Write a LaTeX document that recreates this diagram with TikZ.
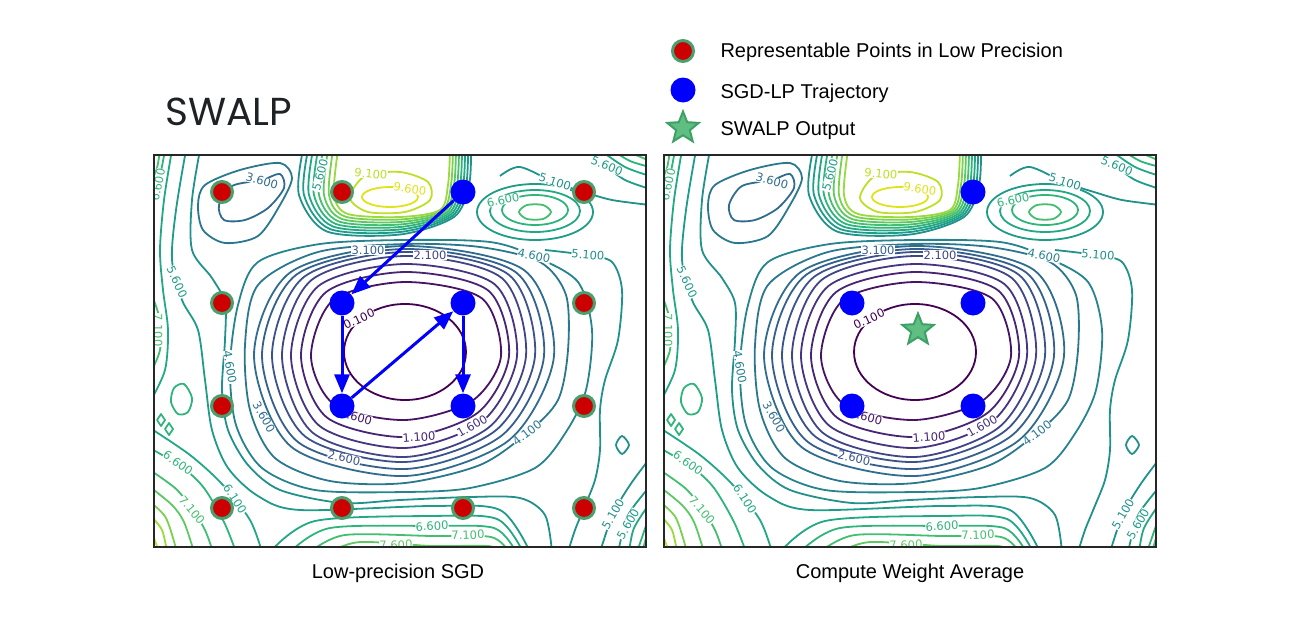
\documentclass[tikz,border=0pt]{standalone}
\usepackage{fontspec}
\setmainfont{Liberation Sans}
\newfontfamily\dejavu{DejaVu Sans}
\newfontfamily\poppins{Poppins}
\usetikzlibrary{shapes.geometric,arrows.meta}

% viridis levels of the loss surface
\definecolor{v01}{HTML}{440154}
\definecolor{v06}{HTML}{471365}
\definecolor{v11}{HTML}{482475}
\definecolor{v16}{HTML}{463480}
\definecolor{v21}{HTML}{414487}
\definecolor{v26}{HTML}{3B528B}
\definecolor{v31}{HTML}{355F8D}
\definecolor{v36}{HTML}{2F6C8E}
\definecolor{v41}{HTML}{2A788E}
\definecolor{v46}{HTML}{25848E}
\definecolor{v51}{HTML}{21918C}
\definecolor{v56}{HTML}{1E9C89}
\definecolor{v61}{HTML}{22A884}
\definecolor{v66}{HTML}{2FB47C}
\definecolor{v71}{HTML}{44BF70}
\definecolor{v76}{HTML}{5EC962}
\definecolor{v81}{HTML}{7AD151}
\definecolor{v86}{HTML}{9BD93C}
\definecolor{v91}{HTML}{BDDF26}
\definecolor{v96}{HTML}{DFE318}
\definecolor{lpred}{HTML}{CC0000}
\definecolor{lpgreen}{HTML}{4A9F6E}
\definecolor{starfill}{HTML}{5FBE82}
\definecolor{starline}{HTML}{3DA064}
\definecolor{titlegray}{HTML}{1F2225}

% contour map of one panel, #1 = prefix of the label names
\newcommand\lossmap[1]{%
  \begin{scope}[line width=1.8pt, line join=round]
    \clip (154,155) rectangle (646,547);
    % central basin
    \draw[v01] (405,352) ellipse [x radius=61pt, y radius=48pt];
    \foreach \aL/\aR/\bT/\bB/\col in {94/96/74/64/v06, 104/104/84/81/v11,
        114/112/92/92/v16, 123/121/100/101/v21, 133/130/104/106/v26,
        143/139/107/113/v31, 151/149/110/120/v36}
      \draw[\col] plot[smooth cycle] coordinates {({405+\aR},356)
        ({405+0.7*\aR},{356+0.7*\bB}) (405,{356+\bB})
        ({405-0.75*\aL},{356+0.76*\bB}) ({405-\aL},356)
        ({405-0.76*\aL},{356-0.76*\bT}) (405,{356-\bT})
        ({405+0.8*\aR},{356-0.78*\bT})};
    \draw[v41] plot[smooth cycle] coordinates {(405,244) (480,247) (540,262)
      (566,295) (568,350) (558,400) (527,433) (480,465) (405,483) (330,481)
      (275,458) (250,410) (245,345) (258,285) (318,252)};
    \draw[v46] plot[smooth cycle] coordinates {(405,240) (490,242) (536,257)
      (578,282) (592,330) (586,390) (566,432) (535,468) (470,488) (405,492)
      (315,490) (262,468) (236,425) (230,367) (238,305) (258,262) (320,244)};
    % peak at the top
    \draw[v96] (390,197) ellipse [x radius=28pt, y radius=10pt];
    \draw[v91] plot[smooth cycle] coordinates {(350,198) (365,176) (400,172)
      (428,182) (430,200) (405,212) (368,212)};
    \foreach \k/\col in {0/v86,1/v81,2/v76,3/v71,4/v66,5/v61,6/v56,7/v51}
      \draw[\col] plot[smooth] coordinates {({338-5*\k},150) ({334-5*\k},195)
        ({348-3*\k},{214+2.5*\k}) (400,{217+2.5*\k}) ({440+2*\k},{210+\k})
        ({448+3*\k},185) ({450+3*\k},150)};
    % hill at the top right
    \draw[v71] plot[smooth cycle] coordinates {(519,212) (527,205) (543,205)
      (551,212) (543,219) (527,219)};
    \draw[v66] (535,210) ellipse [x radius=33pt, y radius=15pt];
    \draw[v61] (535,211) ellipse [x radius=45pt, y radius=21pt];
    \draw[v56] (535,212) ellipse [x radius=58pt, y radius=28pt];
    \draw[v51] plot[smooth] coordinates {(500,176) (520,167) (556,183)
      (584,192) (612,200) (650,205)};
    \draw[v51] plot[smooth] coordinates {(545,250) (586,255) (612,262)
      (622,290) (618,340) (605,380) (600,410) (600,450) (595,480) (584,508)
      (575,530) (568,552)};
    \draw[v51] plot[smooth cycle] coordinates {(622,436) (629,445) (622,454)
      (616,445)};
    % pocket at the top left
    \draw[v36] plot[smooth cycle] coordinates {(232,186) (262,180) (280,174)
      (284,188) (268,208) (245,220) (224,220) (219,205)};
    \draw[v41] plot[smooth cycle] coordinates {(205,185) (240,170) (280,163)
      (292,178) (280,205) (258,236) (225,243) (203,230) (198,205)};
    % left side
    \draw[v51] plot[smooth] coordinates {(200,150) (192,200) (192,250)
      (212,278) (225,303) (225,340) (222,390) (228,430) (248,465) (280,490)
      (342,503) (400,500) (470,497) (520,498) (545,515) (552,552)};
    \draw[v56] plot[smooth] coordinates {(186,150) (176,210) (172,260)
      (182,300) (198,330) (205,380) (212,430) (228,468) (258,496) (300,510)
      (432,506) (500,510) (530,552)};
    \draw[v61] plot[smooth] coordinates {(172,150) (164,200) (160,250)
      (163,290) (168,330) (165,370) (150,402)};
    \draw[v71] plot[smooth] coordinates {(150,290) (160,320) (160,350) (150,374)};
    \draw[v76] plot[smooth] coordinates {(150,305) (156,325) (150,345)};
    \draw[v66] plot[smooth cycle] coordinates {(174,388) (184,384) (192,398)
      (188,412) (178,414) (171,402)};
    \draw[v66] (161,414) -- (165,420) -- (161,426) -- (157,420) -- cycle;
    \draw[v66] (169,423) -- (173,429) -- (169,435) -- (165,429) -- cycle;
    % bottom middle hill
    \foreach \i/\col in {1/v61,2/v66,3/v71,4/v76,5/v81}
      \draw[\col] plot[smooth] coordinates {({250+20*\i},552)
        ({300+15*\i},{514+7*\i}) (432,{506+10*\i}) ({500-3*\i},{510+9*\i})
        ({530-7*\i},552)};
    % corners
    \draw[v66] plot[smooth] coordinates {(150,205) (160,175) (165,150)};
    \draw[v71] plot[smooth] coordinates {(150,186) (157,168) (160,150)};
    \draw[v81] plot[smooth] coordinates {(150,172) (156,150)};
    \draw[v56] plot[smooth] coordinates {(588,150) (606,166) (625,180) (650,189)};
    \draw[v61] plot[smooth] coordinates {(600,150) (625,167) (650,176)};
    \draw[v66] plot[smooth] coordinates {(612,150) (630,161) (650,167)};
    \draw[v71] plot[smooth] coordinates {(624,150) (650,161)};
    \draw[v81] plot[smooth] coordinates {(634,150) (650,156)};
    \draw[v61] plot[smooth] coordinates {(150,428) (190,455) (222,484)
      (250,520) (262,552)};
    \draw[v66] plot[smooth] coordinates {(150,448) (183,468) (204,488)
      (224,522) (236,552)};
    \draw[v71] plot[smooth] coordinates {(150,470) (175,488) (191,507)
      (205,530) (213,552)};
    \draw[v76] plot[smooth] coordinates {(150,487) (172,505) (184,522) (194,552)};
    \draw[v81] plot[smooth] coordinates {(150,502) (166,518) (177,552)};
    \draw[v86] plot[smooth] coordinates {(150,515) (162,530) (167,552)};
    \draw[v91] plot[smooth] coordinates {(150,527) (159,552)};
    \draw[v51] plot[smooth] coordinates {(650,458) (630,485) (613,514) (600,552)};
    \draw[v56] plot[smooth] coordinates {(650,486) (634,506) (626,520) (618,552)};
    \draw[v61] plot[smooth] coordinates {(650,503) (634,528) (629,552)};
    \draw[v66] plot[smooth] coordinates {(650,514) (637,552)};
    \draw[v71] plot[smooth] coordinates {(650,524) (642,552)};
    \draw[v76] plot[smooth] coordinates {(650,533) (646,552)};
    % level labels
    \foreach \x/\y/\ang/\txt/\col [count=\k] in {
        262/181/-15/3.600/v36, 320/175/75/5.600/v56, 371/174/-5/9.100/v91,
        410/189/-8/9.600/v96, 503/200/12/6.600/v66, 555/182/-18/5.100/v51,
        607/166/-22/5.600/v56, 368/250/0/3.100/v31, 430/255/0/2.100/v21,
        534/256/-12/4.600/v46, 588/255/-5/5.100/v51, 177/282/-65/5.600/v56,
        158/185/78/6.600/v66, 158/330/-90/7.100/v71, 359/319/25/0.100/v01,
        230/367/-80/4.600/v46, 264/417/-60/3.600/v36, 356/417/-15/0.600/v06,
        419/437/4/1.100/v11, 472/426/30/1.600/v16, 344/458/-12/2.600/v26,
        527/433/38/4.100/v41, 178/463/-35/6.600/v66, 235/499/-58/6.100/v61,
        192/510/-50/7.100/v71, 432/526/3/6.600/v66, 468/535/2/7.100/v71,
        396/545/2/7.600/v76, 613/514/60/5.100/v51, 628/524/60/5.600/v56}
      \node[clabel, text=\col, rotate=\ang] (#1lab\k) at (\x,\y) {\txt};
  \end{scope}}

\begin{document}
\begin{tikzpicture}[x=1pt, y=-1pt,
    clabel/.style={font=\dejavu\fontsize{11.5}{12}\selectfont, fill=white,
      inner sep=0.2pt},
    panel/.style={draw=black!85, line width=1.2pt},
    rpoint/.style={circle, fill=lpred, draw=lpgreen, line width=3pt,
      minimum size=21pt, inner sep=0pt},
    sgdpoint/.style={circle, fill=blue, minimum size=25pt, inner sep=0pt},
    swalpstar/.style={star, star points=5, star point ratio=2.3,
      minimum size=33pt, inner sep=0pt, fill=starfill, draw=starline,
      line width=2pt},
    traj/.style={draw=blue, line width=3pt,
      -{Triangle[length=19pt, width=15pt]}},
    keytext/.style={anchor=base west, font=\fontsize{20}{24}\selectfont},
    caption/.style={anchor=base, font=\fontsize{20}{24}\selectfont}
  ]
  \useasboundingbox (0,0) rectangle (1312,629);

  % title and legend
  \node[anchor=base west, inner sep=0pt, text=titlegray,
    font=\poppins\fontsize{39}{42}\selectfont] (title) at (165,125) {SWALP};
  \node[rpoint] (keyred) at (683,51) {};
  \node[keytext] (keyredtxt) at (717,57) {Representable Points in Low Precision};
  \node[sgdpoint] (keyblue) at (683,90) {};
  \node[keytext] (keybluetxt) at (717,98) {SGD-LP Trajectory};
  \node[swalpstar] (keystar) at (683,128) {};
  \node[keytext] (keystartxt) at (717,135) {SWALP Output};

  % left panel: low-precision SGD
  \lossmap{l}
  \draw[panel] (154,155) rectangle (646,547);
  \foreach \x/\y [count=\k] in {222/192, 342/192, 584/192, 222/303, 584/303,
      222/406, 584/406, 222/508, 342/508, 463/508, 584/508}
    \node[rpoint] (lp\k) at (\x,\y) {};
  \node[sgdpoint] (sgda) at (463,192) {};
  \node[sgdpoint] (sgdb) at (342,303) {};
  \node[sgdpoint] (sgdc) at (342,406) {};
  \node[sgdpoint] (sgdd) at (463,303) {};
  \node[sgdpoint] (sgde) at (463,406) {};
  \draw[traj] (sgda) -- (sgdb);
  \draw[traj] (sgdb) -- (sgdc);
  \draw[traj] (sgdc) -- (sgdd);
  \draw[traj] (sgdd) -- (sgde);
  \node[caption] (leftcap) at (398,578) {Low-precision SGD};

  % right panel: weight average
  \begin{scope}[shift={(510,0)}]
    \lossmap{r}
  \end{scope}
  \draw[panel] (664,155) rectangle (1156,547);
  \node[sgdpoint] (avga) at (973,192) {};
  \node[sgdpoint] (avgb) at (852,303) {};
  \node[sgdpoint] (avgc) at (852,406) {};
  \node[sgdpoint] (avgd) at (973,303) {};
  \node[sgdpoint] (avge) at (973,406) {};
  \node[swalpstar] (swalp) at (918,330) {};
  \node[caption] (rightcap) at (910,578) {Compute Weight Average};
\end{tikzpicture}
\end{document}
